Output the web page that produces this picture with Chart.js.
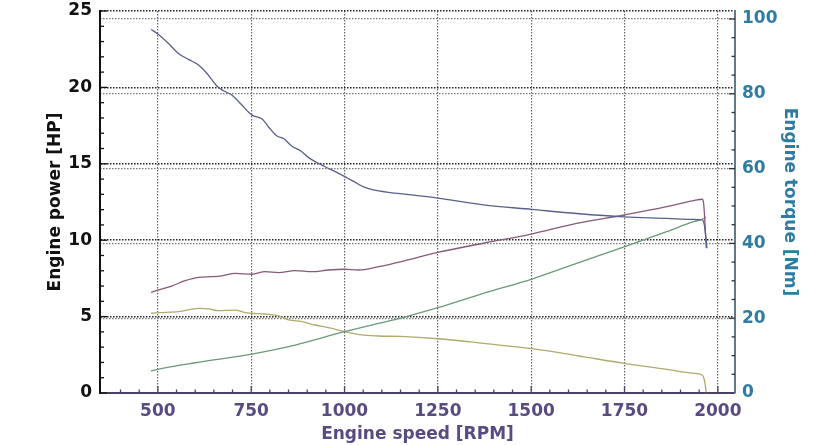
<!DOCTYPE html>
<html>
<head>
<meta charset="utf-8">
<script src="https://cdn.jsdelivr.net/npm/chart.js@4.4.1/dist/chart.umd.min.js"></script>
<style>
  html, body { margin: 0; padding: 0; background: #fff; }
</style>
</head>
<body>
<canvas id="engineChart" width="828" height="445"></canvas>
<script>
// engine torque (right axis, Nm)
const rpmTorque = [482, 500, 528, 555, 582, 609, 631, 658, 676, 698, 725, 752, 780, 796, 819, 836, 859, 883, 903, 926, 948, 975, 1002, 1029, 1051, 1077, 1122, 1167, 1250, 1372, 1502, 1622, 1749, 1863, 1935, 1958, 1964, 1971];
const torqueNm = [97.2, 96.0, 93.5, 90.8, 89.2, 87.7, 85.5, 82.1, 80.8, 79.7, 77.0, 74.3, 73.2, 71.2, 68.7, 68.1, 66.0, 64.7, 63.0, 61.6, 60.5, 59.2, 57.8, 56.3, 55.1, 54.3, 53.6, 53.1, 52.1, 50.3, 49.1, 48.0, 47.1, 46.7, 46.4, 46.3, 44.9, 38.7];

// engine power (left axis, HP)
const rpmPower = [482, 500, 537, 573, 609, 645, 671, 707, 752, 787, 823, 868, 913, 957, 999, 1037, 1091, 1162, 1250, 1372, 1500, 1622, 1749, 1863, 1935, 1958, 1962, 1969];
const powerHp = [6.59, 6.74, 7.0, 7.35, 7.57, 7.61, 7.66, 7.83, 7.77, 7.94, 7.88, 8.01, 7.94, 8.05, 8.10, 8.05, 8.27, 8.66, 9.2, 9.8, 10.4, 11.1, 11.65, 12.19, 12.59, 12.68, 12.4, 9.5];

// rising green curve (left axis, HP)
const rpmGreen = [482, 500, 600, 752, 868, 1000, 1091, 1149, 1250, 1372, 1502, 1622, 1749, 1863, 1935, 1958, 1968];
const greenHp = [1.44, 1.55, 1.98, 2.55, 3.14, 4.01, 4.56, 4.89, 5.58, 6.52, 7.46, 8.49, 9.57, 10.56, 11.21, 11.37, 11.5];

// falling olive curve (left axis, HP)
const rpmOlive = [482, 500, 555, 609, 636, 662, 707, 734, 752, 787, 823, 850, 886, 921, 966, 1002, 1046, 1091, 1149, 1250, 1372, 1502, 1622, 1749, 1863, 1935, 1958, 1964, 1969];
const oliveHp = [5.22, 5.26, 5.32, 5.54, 5.50, 5.39, 5.43, 5.26, 5.22, 5.17, 5.04, 4.78, 4.67, 4.45, 4.23, 4.01, 3.80, 3.73, 3.70, 3.55, 3.25, 2.90, 2.45, 1.94, 1.55, 1.29, 1.18, 0.85, 0.05];

const xTicks = [500, 750, 1000, 1250, 1500, 1750, 2000];
const powerTicks = [0, 5, 10, 15, 20, 25];
const torqueTicks = [0, 20, 40, 60, 80, 100];

const toPoints = (xs, ys) => xs.map((x, i) => ({ x: x, y: ys[i] }));

const purpleText = '#5a4a82';
const tealText = '#2f7ca3';

// small tick marks drawn inside the plot, like the original
const minorTicks = {
  id: 'minorTicks',
  beforeDatasetsDraw(chart) {
    const { ctx, chartArea, scales } = chart;
    ctx.save();
    ctx.lineWidth = 1.3;

    ctx.strokeStyle = '#111';
    for (let v = 0; v <= 25; v++) {
      const y = scales.y.getPixelForValue(v);
      const len = v % 5 === 0 ? 7 : 4;
      ctx.beginPath(); ctx.moveTo(chartArea.left, y); ctx.lineTo(chartArea.left + len, y); ctx.stroke();
    }

    ctx.strokeStyle = '#4b4163';
    for (let v = 400; v <= 2000; v += 50) {
      const x = scales.x.getPixelForValue(v);
      const len = v % 250 === 0 ? 7 : 3.5;
      ctx.beginPath(); ctx.moveTo(x, chartArea.bottom); ctx.lineTo(x, chartArea.bottom - len); ctx.stroke();
    }

    ctx.strokeStyle = '#333';
    for (let v = 5; v <= 100; v += 5) {
      const y = scales.y1.getPixelForValue(v);
      const len = v % 20 === 0 ? 6 : 3.5;
      ctx.beginPath(); ctx.moveTo(chartArea.right, y); ctx.lineTo(chartArea.right - len, y); ctx.stroke();
    }
    ctx.restore();
  }
};

const lineStyle = (color) => ({
  borderColor: color,
  borderWidth: 1.3,
  pointRadius: 0,
  fill: false,
  cubicInterpolationMode: 'monotone'
});

// fixed box for a vertical axis, no extra label overflow at top/bottom
const fixVertical = (w) => (s) => {
  s.width = w;
  s.paddingTop = 0;
  s.paddingBottom = 0;
};

new Chart(document.getElementById('engineChart'), {
  type: 'line',
  data: {
    datasets: [
      Object.assign({ label: 'Torque', data: toPoints(rpmTorque, torqueNm), yAxisID: 'y1' }, lineStyle('#5a5f8c')),
      Object.assign({ label: 'Power', data: toPoints(rpmPower, powerHp), yAxisID: 'y' }, lineStyle('#875a76')),
      Object.assign({ label: 'Green', data: toPoints(rpmGreen, greenHp), yAxisID: 'y' }, lineStyle('#6a9a7c')),
      Object.assign({ label: 'Olive', data: toPoints(rpmOlive, oliveHp), yAxisID: 'y' }, lineStyle('#aeab6c'))
    ]
  },
  options: {
    responsive: false,
    animation: false,
    layout: { padding: { top: 11, left: 0, right: 0, bottom: 0 } },
    plugins: { legend: { display: false }, tooltip: { enabled: false } },
    scales: {
      x: {
        type: 'linear',
        min: 345,
        max: 2046,
        afterBuildTicks: (s) => { s.ticks = xTicks.map(v => ({ value: v })); },
        afterFit: (s) => { s.height = 52; s.paddingLeft = 0; s.paddingRight = 0; },
        ticks: {
          color: purpleText,
          padding: 8,
          font: { family: 'DejaVu Sans', size: 17, weight: 'bold' },
          callback: (v) => String(v)
        },
        grid: { color: '#666', lineWidth: 1.2, drawTicks: false },
        border: { color: '#4b4163', width: 2, dash: [1.5, 1.5] },
        title: {
          display: true,
          text: 'Engine speed [RPM]',
          color: purpleText,
          padding: { top: 0, bottom: 0 },
          font: { family: 'DejaVu Sans', size: 17, weight: 'bold' }
        }
      },
      y: {
        position: 'left',
        min: 0,
        max: 25,
        afterBuildTicks: (s) => { s.ticks = powerTicks.map(v => ({ value: v })); },
        afterFit: fixVertical(100),
        ticks: {
          color: '#111',
          padding: 8,
          font: { family: 'DejaVu Sans', size: 17, weight: 'bold' },
          callback: (v) => String(v)
        },
        grid: { color: '#222', lineWidth: 1.5, drawTicks: false },
        border: { color: '#111', width: 2, dash: [1.5, 1.5] },
        title: {
          display: true,
          text: 'Engine power [HP]',
          color: '#111',
          padding: { top: 45, bottom: 0 },
          font: { family: 'DejaVu Sans', size: 17, weight: 'bold' }
        }
      },
      y1: {
        position: 'right',
        min: 0,
        max: 102.14,
        afterBuildTicks: (s) => { s.ticks = torqueTicks.map(v => ({ value: v })); },
        afterFit: fixVertical(93),
        ticks: {
          color: tealText,
          padding: 7,
          font: { family: 'DejaVu Sans', size: 17, weight: 'bold' },
          callback: (v) => String(v)
        },
        grid: { color: '#777', lineWidth: 1.2, drawTicks: false },
        border: { color: '#5f7a8c', width: 2, dash: [1.5, 1.5] },
        title: {
          display: true,
          text: 'Engine torque [Nm]',
          color: tealText,
          padding: { top: 28, bottom: 0 },
          font: { family: 'DejaVu Sans', size: 17, weight: 'bold' }
        }
      }
    }
  },
  plugins: [minorTicks]
});
</script>
</body>
</html>
